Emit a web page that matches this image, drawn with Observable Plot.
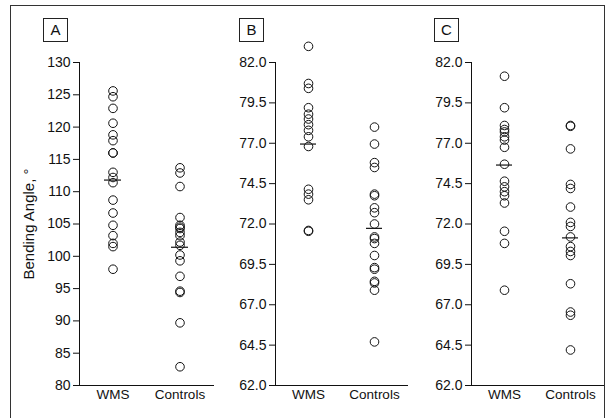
<!DOCTYPE html>
<html>
<head>
<meta charset="utf-8">
<script src="https://cdn.jsdelivr.net/npm/d3@7"></script>
<script src="https://cdn.jsdelivr.net/npm/@observablehq/plot@0.6"></script>
<style>
  html, body { margin: 0; padding: 0; background: #fff; }
  body { width: 613px; height: 418px; position: relative; overflow: hidden;
         font-family: "Liberation Sans", Arial, sans-serif; }
  #frame { position: absolute; left: 10px; top: 5px; width: 593px; height: 430px; border: 1px solid #333; }
  .panel { position: absolute; top: 0; }
  .panel text { font-family: "Liberation Sans", Arial, sans-serif !important; fill: #111; }
  .panel g[aria-label="y-axis tick label"] text { font-size: 14px !important; }
  .panel g[aria-label="x-axis tick label"] text { font-size: 13.5px !important; }
  .tag { position: absolute; top: 18px; width: 23px; height: 22px; border: 1px solid #222; font-size: 15px;
         line-height: 22px; text-align: center; color: #111; }
  #ylab { position: absolute; left: 28px; top: 224px; transform: translate(-50%, -50%) rotate(-90deg);
          white-space: nowrap; font-size: 15px; color: #111; }
</style>
</head>
<body>
<div id="frame"></div>
<div id="ylab">Bending Angle, °</div>
<script>
// ---- Data ----
const groups = ["WMS", "Controls"];

const A_wms  = [125.6, 124.7, 122.9, 120.6, 118.8, 117.9, 116.0, 116.0, 113.0, 112.2, 111.4, 108.7, 106.7, 104.8, 103.2, 102.0, 101.5, 98.0];
const A_ctrl = [113.7, 112.9, 110.8, 106.0, 104.8, 104.5, 104.3, 103.7, 103.2, 102.2, 101.7, 100.2, 99.3, 96.9, 94.6, 94.4, 89.7, 82.9];
const A_med  = [111.8, 101.4];

const B_wms  = [83.0, 80.7, 80.4, 79.2, 78.8, 78.5, 78.15, 77.8, 77.4, 76.8, 74.15, 73.85, 73.5, 71.6, 71.55];
const B_ctrl = [78.0, 76.95, 75.8, 75.5, 73.85, 73.75, 73.0, 72.7, 72.0, 71.2, 71.1, 70.8, 70.05, 69.3, 69.2, 68.45, 68.35, 67.9, 64.7];
const B_med  = [76.95, 71.73];

const C_wms  = [81.15, 79.2, 78.1, 77.85, 77.7, 77.4, 77.2, 76.75, 75.7, 74.65, 74.3, 74.0, 73.75, 73.3, 71.55, 70.8, 67.9];
const C_ctrl = [78.1, 78.05, 76.65, 74.45, 74.2, 73.05, 72.1, 71.85, 71.2, 70.6, 70.3, 70.05, 68.3, 66.55, 66.35, 64.2];
const C_med  = [75.65, 71.14];

const A_ticks  = [80, 85, 90, 95, 100, 105, 110, 115, 120, 125, 130];
const BC_ticks = [62.0, 64.5, 67.0, 69.5, 72.0, 74.5, 77.0, 79.5, 82.0];

const panels = [
  {tag: "A", wms: A_wms, ctrl: A_ctrl, med: A_med, domain: [80, 130], ticks: A_ticks, fmt: d3.format("d"),
   left: 0, width: 215, marginLeft: 79, tagLeft: 43},
  {tag: "B", wms: B_wms, ctrl: B_ctrl, med: B_med, domain: [62, 82], ticks: BC_ticks, fmt: d3.format(".1f"),
   left: 200, width: 209, marginLeft: 75, tagLeft: 239},
  {tag: "C", wms: C_wms, ctrl: C_ctrl, med: C_med, domain: [62, 82], ticks: BC_ticks, fmt: d3.format(".1f"),
   left: 400, width: 205, marginLeft: 71, tagLeft: 434}
];

for (const p of panels) {
  const pts = [
    ...p.wms.map(v => ({group: groups[0], value: v})),
    ...p.ctrl.map(v => ({group: groups[1], value: v}))
  ];
  const meds = p.med.map((v, i) => ({group: groups[i], value: v}));
  const chart = Plot.plot({
    width: p.width,
    height: 418,
    marginLeft: p.marginLeft,
    marginRight: 2,
    marginTop: 62,
    marginBottom: 33,
    style: {fontFamily: '"Liberation Sans", Arial, sans-serif', fontSize: "14px", color: "#111", background: "transparent", overflow: "visible"},
    x: {type: "band", domain: groups, padding: 0, label: null},
    y: {domain: p.domain, label: null},
    marks: [
      Plot.frame({anchor: "left", stroke: "#111"}),
      Plot.frame({anchor: "bottom", stroke: "#111"}),
      Plot.axisY({ticks: p.ticks, tickFormat: p.fmt, tickSize: 6, tickPadding: 3, label: null, stroke: "#111", fontSize: 14}),
      Plot.axisX({tickSize: 0, tickPadding: 4, label: null, fontSize: 13.5}),
      Plot.dot(pts, {x: "group", y: "value", r: 4.3, stroke: "#111", strokeWidth: 1, fill: "none"}),
      Plot.tickY(meds, {x: "group", y: "value", stroke: "#111", strokeWidth: 1.2, insetLeft: 25, insetRight: 25})
    ]
  });
  chart.classList.add("panel");
  chart.style.left = p.left + "px";
  document.body.appendChild(chart);
  const tag = document.createElement("div");
  tag.className = "tag";
  tag.style.left = p.tagLeft + "px";
  tag.textContent = p.tag;
  document.body.appendChild(tag);
}
</script>
</body>
</html>
